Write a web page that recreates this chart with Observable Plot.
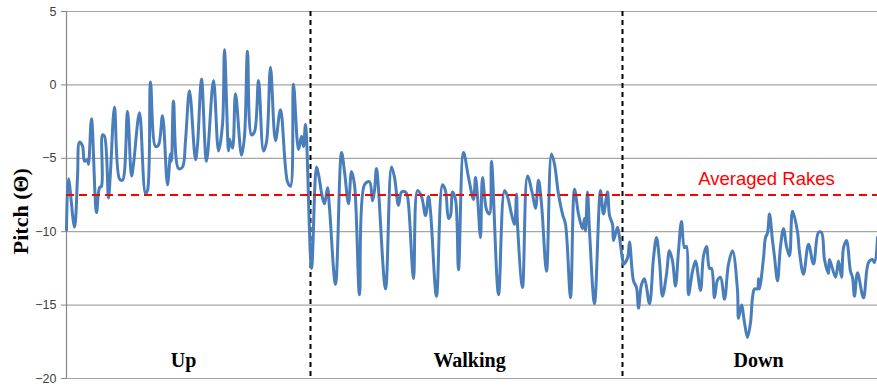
<!DOCTYPE html>
<html>
<head>
<meta charset="utf-8">
<script src="https://cdn.jsdelivr.net/npm/d3@7"></script>
<script src="https://cdn.jsdelivr.net/npm/@observablehq/plot@0.6"></script>
<style>
  html, body { margin: 0; padding: 0; background: #fff; }
  #chart { width: 877px; height: 387px; }
</style>
</head>
<body>
<div id="chart"></div>
<script>
// sample index (position along the recording)
const sampleIdx = [
  0,2,8,11,13,16,18,21,22,25,30,33,35,36,38,42,44,48,53,56,61,65,67,73,79,81,84,
  89,92,96,101,104,105,107,112,116,119,123,129,131,135,140,147,152,156,158,162,163,166,169,
  175,178,181,185,188,192,197,200,204,209,214,221,224,227,232,235,237,239,245,250,
  252,256,258,261,263,269,275,278,282,285,288,293,298,303,306,308,310,319,325,328,332,335,339,
  341,347,351,355,359,362,364,370,376,379,382,384,386,389,392,397,402,407,409,411,414,416,420,
  423,425,432,438,441,445,448,450,451,456,461,466,469,472,475,480,485,488,492,496,499,504,508,
  512,516,518,519,521,523,528,534,537,541,543,546,547,551,553,556,557,561,563,567,570,572,575,578,583,587,590,
  593,596,600,603,606,609,612,615,618,620,622,626,629,634,637,640,643,645,648,651,654,658,662,666,671,672,675,
  678,681,684,686,688,691,692,693,697,699,701,703,706,708,711,714,717,720,723,726,731,733,737,742,747,752,755,758,762,
  763,769,772,775,777,780,784,786,788,791,797,802,806,808,811
];
// pitch values (degrees)
const pitch = [
  -9.9,-6.4,-9.7,-6.3,-3.9,-4.15,-5.2,-5.1,-5.4,-2.3,-8.7,-7.0,-6.9,-3.4,-3.5,-7.7,-5.9,-1.5,-6.4,-6.5,-1.8,-6.2,-5.4,-1.9,-7.4,-7.2,0.2,
  -4.2,-4.1,-2.1,-6.8,-4.7,-5.2,-1.1,-5.7,-5.6,-3.8,-0.4,-5.1,-4.1,0.4,-5.2,0.3,-4.5,-2.7,2.4,-4.5,-3.7,-4.3,-0.6,
  -4.8,-3.5,2.3,-3.4,-3.2,0.3,-4.5,-3.9,1.2,-3.8,-1.7,-6.6,-6.9,0.05,-4.4,-3.5,-4.2,-2.7,-12.5,-5.6,
  -6.1,-7.7,-8.1,-7.0,-8.4,-13.6,-4.6,-5.9,-8.1,-5.9,-6.8,-14.3,-6.8,-6.6,-7.9,-7.2,-5.7,-13.9,-5.6,-6.3,-8.2,-7.3,-7.3,
  -7.6,-13.2,-7.2,-7.6,-8.9,-7.6,-8.6,-14.4,-6.8,-7.2,-9.1,-8.9,-7.3,-7.8,-12.6,-4.6,-6.3,-7.8,-6.3,-7.6,-10.4,-6.3,-8.5,
  -8.8,-5.2,-14.3,-7.2,-7.6,-8.8,-9.5,-7.45,-9.5,-13.8,-6.2,-7.45,-8.4,-6.5,-8.1,-12.7,-4.7,-5.4,-7.45,-8.8,-9.5,-14.5,-7.1,
  -8.8,-9.8,-9.1,-9.95,-7.3,-9.95,-14.9,-7.2,-8.8,-7.3,-8.9,-9.5,-10.6,-9.7,-10.4,-11.9,-12.2,-11.8,-10.7,-13.35,-13.8,-15.2,-13.6,-13.2,-14.9,-11.8,-10.4,
  -12.0,-14.4,-12.9,-11.3,-12.0,-13.7,-11.3,-9.3,-11.1,-11.0,-14.3,-12.7,-12.0,-14.0,-11.65,-11.0,-12.5,-12.5,-14.5,-13.3,-13.1,-14.6,-12.2,-11.3,-14.0,-15.9,-15.0,
  -16.2,-17.2,-16.2,-14.5,-13.9,-13.9,-13.2,-13.9,-11.8,-10.4,-10.1,-8.8,-10.6,-11.7,-13.35,-11.0,-9.8,-11.0,-11.65,-8.6,-10.0,-11.4,-12.9,-10.85,-12.2,-10.05,-10.05,-11.9,-12.85,
  -11.9,-13.1,-12.0,-13.1,-11.1,-10.6,-12.7,-13.1,-14.4,-12.8,-14.5,-12.1,-11.9,-12.1,-10.4
];
const yTicks = [-20, -15, -10, -5, 0, 5];
const phaseBounds = [244, 556];
const phaseNames = ["Up", "Walking", "Down"];
const phaseLabelX = [117, 403, 692];
const averageRake = -7.5;
const averageLabel = "Averaged Rakes";
const yLabel = "Pitch (Θ)";

const series = sampleIdx.map((t, i) => ({t, v: pitch[i]}));
const phases = phaseNames.map((name, i) => ({name, t: phaseLabelX[i]}));

const chart = Plot.plot({
  width: 877,
  height: 387,
  marginLeft: 66,
  marginRight: 0,
  marginTop: 11,
  marginBottom: 9,
  style: {background: "#fff", overflow: "visible"},
  x: {domain: [0, 811], axis: null},
  y: {domain: [-20, 5]},
  marks: [
    Plot.ruleY(yTicks, {stroke: "#a6a6a6", strokeWidth: 1.2}),
    Plot.ruleX([0], {stroke: "#868686", strokeWidth: 1.2}),
    Plot.axisY({
      ticks: yTicks, tickSize: 5, tickPadding: 5, label: null,
      stroke: "#868686", fontSize: 12.5, fontFamily: "Liberation Sans", fill: "#404040"
    }),
    Plot.ruleX(phaseBounds, {stroke: "#000", strokeWidth: 2, strokeDasharray: "5,4"}),
    Plot.line(series, {x: "t", y: "v", stroke: "#4a7ebb", strokeWidth: 3, curve: "catmull-rom"}),
    Plot.ruleY([averageRake], {stroke: "#ff0000", strokeWidth: 2, strokeDasharray: "8,5"}),
    Plot.text([averageLabel], {x: 700, y: -6.4, fill: "#ff0000", fontSize: 18.5, fontFamily: "Liberation Sans"}),
    Plot.text(phases, {x: "t", y: -18.8, text: "name", fontSize: 20, fontWeight: "bold", fontFamily: "Liberation Serif", fill: "#000"}),
    Plot.text([yLabel], {x: 0, y: -8.6, dx: -46, rotate: -90, fontSize: 22, fontWeight: "bold", fontFamily: "Liberation Serif", fill: "#000"})
  ]
});
document.getElementById("chart").appendChild(chart);
</script>
</body>
</html>
